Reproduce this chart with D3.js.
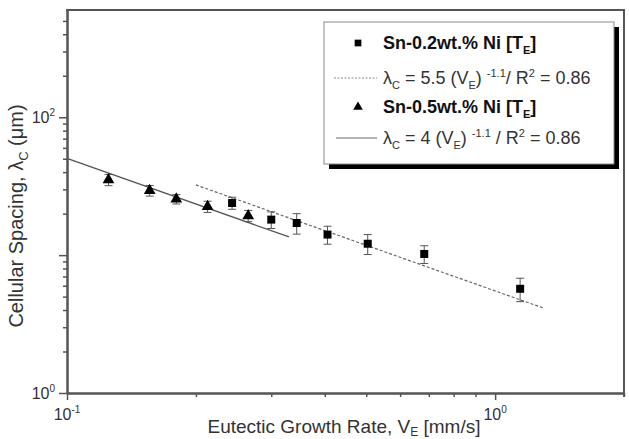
<!DOCTYPE html>
<html>
<head>
<meta charset="utf-8">
<script src="https://cdn.jsdelivr.net/npm/d3@7"></script>
<style>
body { margin: 0; background: #fff; }
text { font-family: "Liberation Sans", Arial, sans-serif; }
</style>
</head>
<body>
<div id="chart-area"></div>
<script>
// data
let vel02 = [0.243, 0.300, 0.344, 0.406, 0.504, 0.683, 1.144]
let lam02 = [23.9, 18.1, 17.1, 14.1, 12.1, 10.2, 5.7]
let err02 = [2.4, 2.5, 2.9, 2.1, 2.0, 1.5, 1.1]

let vel05 = [0.125, 0.156, 0.180, 0.213, 0.265]
let lam05 = [35.2, 29.4, 25.5, 22.5, 19.3]
let err05 = [3.3, 2.6, 2.0, 2.1, 1.8]

// fits: lambda = a * V^b
let fitA = [5.5, 4]
let fitB = -1.1
let fitRange02 = [0.2, 1.3]
let fitRange05 = [0.1, 0.33]

let xMajor = [0.1, 1]
let xMinor = [0.2, 0.3, 0.4, 0.5, 0.6, 0.7, 0.8, 0.9, 2]
let yMajor = [1, 10, 100]
let yMinor = [2, 3, 4, 5, 6, 7, 8, 9, 20, 30, 40, 50, 60, 70, 80, 90, 200, 300, 400, 500]

let width = 629,
height = 439;

let svg = d3.select("#chart-area").append("svg")
.attr("width", width)
.attr("height", height);

let x = d3.scaleLog().domain([0.1, 2]).range([67, 624])
let y = d3.scaleLog().domain([1, 600]).range([393, 10])

let axisColor = '#555'

// axes
function styleAxis(g){
	g.select('.domain').attr('stroke', axisColor).attr('stroke-width', 2)
	g.selectAll('.tick line').attr('stroke', axisColor).attr('stroke-width', 1.5)
	g.selectAll('.tick text').remove()
}

svg.append('g').attr('transform', 'translate(0,393)')
	.call(d3.axisBottom(x).tickValues(xMinor).tickSize(4).tickSizeOuter(0).tickFormat(''))
	.call(styleAxis)
svg.append('g').attr('transform', 'translate(0,393)')
	.call(d3.axisBottom(x).tickValues(xMajor).tickSize(7).tickSizeOuter(0).tickFormat(''))
	.call(styleAxis)
svg.append('g').attr('transform', 'translate(67,0)')
	.call(d3.axisLeft(y).tickValues(yMinor).tickSize(4).tickSizeOuter(0).tickFormat(''))
	.call(styleAxis)
svg.append('g').attr('transform', 'translate(67,0)')
	.call(d3.axisLeft(y).tickValues(yMajor).tickSize(8).tickSizeOuter(0).tickFormat(''))
	.call(styleAxis)

// frame top and right
svg.append('line').attr('x1', 66).attr('x2', 625).attr('y1', 10).attr('y2', 10)
	.attr('stroke', axisColor).attr('stroke-width', 2)
svg.append('line').attr('x1', 624).attr('x2', 624).attr('y1', 10).attr('y2', 397)
	.attr('stroke', axisColor).attr('stroke-width', 2)

// text with sub/superscripts
function richText(sel, parts, bigSize, smallSize, subDy){
	let shift = 0
	let sub = subDy || 5
	parts.forEach(p => {
		let target = p[1] === 'sub' ? sub : (p[1] === 'sup' ? -7 : 0)
		sel.append('tspan')
			.attr('dy', target - shift)
			.attr('font-size', p[1] ? smallSize : bigSize)
			.text(p[0])
		shift = target
	})
}

// tick labels
xMajor.forEach(v => {
	let t = svg.append('text').attr('x', x(v)).attr('y', 420)
		.attr('text-anchor', 'middle').attr('fill', '#333')
	richText(t, [['10'], [v === 1 ? '0' : '-1', 'sup']], 16, 10)
})
;[1, 100].forEach(v => {
	let t = svg.append('text').attr('x', 55).attr('y', y(v) + 6)
		.attr('text-anchor', 'end').attr('fill', '#333')
	richText(t, [['10'], [v === 1 ? '0' : '2', 'sup']], 16, 10)
})

// axis titles
let xt = svg.append('text').attr('x', 344).attr('y', 433)
	.attr('text-anchor', 'middle').attr('fill', '#333')
richText(xt, [['Eutectic Growth Rate, V'], ['E', 'sub'], [' [mm/s]']], 19, 12, 3)

let yt = svg.append('text').attr('transform', 'translate(23,216) rotate(-90)')
	.attr('text-anchor', 'middle').attr('fill', '#333')
richText(yt, [['Cellular Spacing, λ'], ['C', 'sub'], [' (μm)']], 20, 13)

// fit lines
let line = d3.line().x(d => x(d[0])).y(d => y(d[1]))
svg.append('path')
	.attr('d', line(fitRange02.map(v => [v, fitA[0] * Math.pow(v, fitB)])))
	.attr('fill', 'none').attr('stroke', '#666').attr('stroke-width', 1.2)
	.attr('stroke-dasharray', '3,2')
svg.append('path')
	.attr('d', line(fitRange05.map(v => [v, fitA[1] * Math.pow(v, fitB)])))
	.attr('fill', 'none').attr('stroke', '#555').attr('stroke-width', 1.3)

// error bars
function errorBars(vel, lam, err){
	let g = svg.append('g').attr('stroke', '#555').attr('stroke-width', 1)
	vel.forEach((v, i) => {
		let cx = x(v), top = y(lam[i] + err[i]), bot = y(lam[i] - err[i])
		g.append('line').attr('x1', cx).attr('x2', cx).attr('y1', top).attr('y2', bot)
		g.append('line').attr('x1', cx - 4).attr('x2', cx + 4).attr('y1', top).attr('y2', top)
		g.append('line').attr('x1', cx - 4).attr('x2', cx + 4).attr('y1', bot).attr('y2', bot)
	})
}
errorBars(vel02, lam02, err02)
errorBars(vel05, lam05, err05)

// markers
let square = d3.symbol().type(d3.symbolSquare).size(64)
let triangle = d3.symbol().type(d3.symbolTriangle).size(60)

svg.selectAll('.sq')
	.data(vel02)
	.enter().append('path')
	.attr('class', 'sq')
	.attr('d', square)
	.attr('fill', '#000')
	.attr('transform', (d, i) => 'translate(' + x(d) + ',' + y(lam02[i]) + ')')

svg.selectAll('.tri')
	.data(vel05)
	.enter().append('path')
	.attr('class', 'tri')
	.attr('d', triangle)
	.attr('fill', '#000')
	.attr('transform', (d, i) => 'translate(' + x(d) + ',' + y(lam05[i]) + ')')

// legend
let lg = svg.append('g')
lg.append('rect').attr('x', 329).attr('y', 27).attr('width', 290).attr('height', 142).attr('fill', '#000')
lg.append('rect').attr('x', 324).attr('y', 22).attr('width', 290).attr('height', 142)
	.attr('fill', '#fff').attr('stroke', '#888').attr('stroke-width', 1)

lg.append('path').attr('d', d3.symbol().type(d3.symbolSquare).size(45))
	.attr('transform', 'translate(358,43)').attr('fill', '#000')
lg.append('path').attr('d', d3.symbol().type(d3.symbolTriangle).size(40))
	.attr('transform', 'translate(358,107)').attr('fill', '#000')
lg.append('line').attr('x1', 334).attr('x2', 377).attr('y1', 78).attr('y2', 78)
	.attr('stroke', '#888').attr('stroke-width', 1).attr('stroke-dasharray', '2,1.5')
lg.append('line').attr('x1', 336).attr('x2', 377).attr('y1', 138).attr('y2', 138)
	.attr('stroke', '#666').attr('stroke-width', 1)

let rows = [
	{y: 49, bold: true, parts: [['Sn-0.2wt.% Ni [T'], ['E', 'sub'], [']']]},
	{y: 84, bold: false, parts: [['λ'], ['C', 'sub'], [' = 5.5 (V'], ['E', 'sub'], [') '], ['-1.1', 'sup'], ['/ R'], ['2', 'sup'], [' = 0.86']]},
	{y: 113, bold: true, parts: [['Sn-0.5wt.% Ni [T'], ['E', 'sub'], [']']]},
	{y: 144, bold: false, parts: [['λ'], ['C', 'sub'], [' = 4 (V'], ['E', 'sub'], [') '], ['-1.1', 'sup'], [' / R'], ['2', 'sup'], [' = 0.86']]}
]
rows.forEach(r => {
	let t = lg.append('text').attr('x', 383).attr('y', r.y)
		.attr('fill', r.bold ? '#111' : '#333')
		.attr('font-weight', r.bold ? 'bold' : 'normal')
	richText(t, r.parts, 18, 11)
})
</script>
</body>
</html>
